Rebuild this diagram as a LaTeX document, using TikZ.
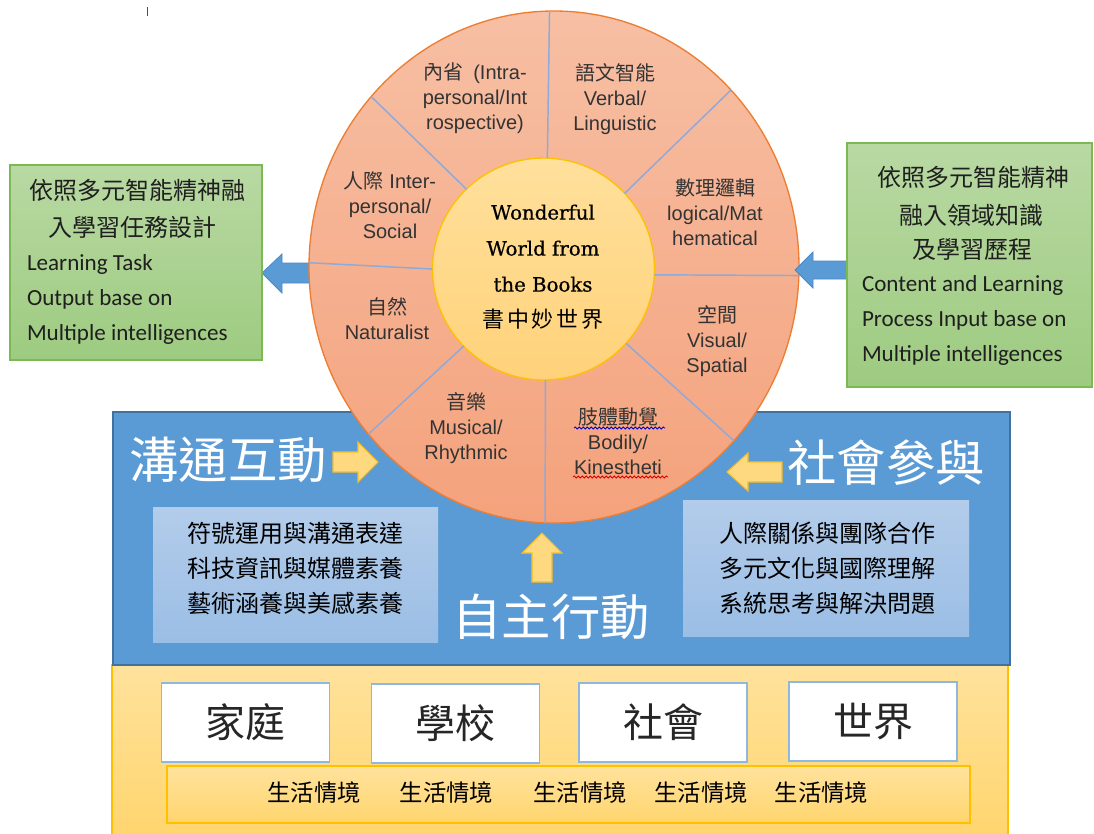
\documentclass[tikz,border=0pt]{standalone}
\usepackage{fontspec}
\setmainfont{Liberation Sans}
\newfontfamily\cjk{Noto Sans CJK TC}
\newfontfamily\calib{Carlito}
\newfontfamily\dvs[FakeBold=0.6]{DejaVu Serif}
\usetikzlibrary{shapes.geometric,decorations.pathmorphing}
\definecolor{outtop}{HTML}{F7BFA4}
\definecolor{outbot}{HTML}{F4A27C}
\definecolor{outedge}{HTML}{ED7D31}
\definecolor{intop}{HTML}{FFE09C}
\definecolor{inbot}{HTML}{FFD27A}
\definecolor{inedge}{HTML}{FFC000}
\definecolor{spoke}{HTML}{8EA9DB}
\definecolor{gtop}{HTML}{B9D9A3}
\definecolor{gbot}{HTML}{9DCB80}
\definecolor{gedge}{HTML}{7CB955}
\definecolor{bluebg}{HTML}{5B9BD5}
\definecolor{blueedge}{HTML}{41719C}
\definecolor{ltop}{HTML}{B3CCEA}
\definecolor{lbot}{HTML}{9BBEE5}
\definecolor{ytop}{HTML}{FFE29C}
\definecolor{ybot}{HTML}{FFD56E}
\definecolor{yedge}{HTML}{FFC000}
\definecolor{arrblue}{HTML}{5B9BD5}
\definecolor{arrblueedge}{HTML}{4A89C8}
\definecolor{arryel}{HTML}{FFD97F}
\definecolor{arryeledge}{HTML}{F5BD2A}
\definecolor{wboxedge}{HTML}{8FB8E0}
\definecolor{dtext}{HTML}{333333}
\begin{document}
\begin{tikzpicture}[x=0.75pt,y=-0.75pt,
  every node/.style={inner sep=0pt,outer sep=0pt},
  wedge/.style={align=center,text=dtext,font=\fontsize{15}{18.75}\selectfont},
  greenbox/.style={rectangle,draw=gedge,line width=1pt,top color=gtop,bottom color=gbot},
  gcjk/.style={text=black!88,font=\cjk\fontsize{18}{22}\selectfont},
  geng/.style={text=black!88,anchor=west,font=\calib\fontsize{17.3}{22}\selectfont},
  lightbox/.style={rectangle,top color=ltop,bottom color=lbot},
  listtxt/.style={align=center,text=black,font=\cjk\fontsize{18}{26.25}\selectfont},
  title/.style={text=white,font=\cjk\fontsize{37}{40}\selectfont},
  whitebox/.style={rectangle,fill=white,draw=wboxedge,line width=1.1pt,minimum width=126pt,minimum height=59.25pt,font=\cjk\fontsize{30}{34}\selectfont,text=black!85},
  lifetxt/.style={text=black,font=\cjk\fontsize{17.5}{20}\selectfont},
  bluearrow/.style={fill=arrblue,draw=arrblueedge,line width=0.6pt},
  yelarrow/.style={fill=arryel,draw=arryeledge,line width=0.8pt},
  spokeline/.style={draw=spoke,line width=1.1pt}
]
\useasboundingbox (0,0) rectangle (1094,833);
\path[fill=white] (0,0) rectangle (1094,833);

% small tick at top
\draw[black!70,line width=0.6pt] (147,7) -- (147,16);

% bottom yellow area and blue area
\node[rectangle,draw=yedge,line width=0.8pt,top color=ytop,bottom color=ybot,
      minimum width=672pt,minimum height=129pt,anchor=north west] (yellowbg) at (112,665) {};
\node[rectangle,fill=bluebg,draw=blueedge,line width=0.8pt,
      minimum width=672.75pt,minimum height=189.75pt,anchor=north west] (bluebg) at (113,412) {};

% light boxes in blue area
\node[lightbox,minimum width=213.75pt,minimum height=101.25pt] (lbox) at (295.5,574.5) {};
\node[listtxt] (ltext) at (295.5,568) {符號運用與溝通表達\\科技資訊與媒體素養\\藝術涵養與美感素養};
\node[lightbox,minimum width=214.5pt,minimum height=102pt] (rbox) at (826,568) {};
\node[listtxt] (rtext) at (827,568) {人際關係與團隊合作\\多元文化與國際理解\\系統思考與解決問題};

% titles
\node[title] (t1) at (228,460) {溝通互動};
\node[title] (t2) at (551,617) {自主行動};
\node[title] (t3) at (886,463) {社會參與};

% left blue arrow (under circle)
\draw[bluearrow] (262,273) -- (282,254) -- (282,263) -- (320,263) -- (320,283) -- (282,283) -- (282,293) -- cycle;

% big circle
\node[ellipse,draw=outedge,line width=1pt,top color=outtop,bottom color=outbot,
      minimum width=367.5pt,minimum height=384pt] (outer) at (554,267) {};
\node[circle,draw=inedge,line width=1pt,top color=intop,bottom color=inbot,
      minimum size=166.5pt] (inner) at (543.5,269) {};

% spokes
\draw[spokeline] (inner.88) -- (outer.91.4);
\draw[spokeline] (inner.43.4) -- (outer.45);
\draw[spokeline] (inner.-3) -- (outer.-2.6);
\draw[spokeline] (inner.-42.3) -- (outer.-44.7);
\draw[spokeline] (inner.-89) -- (outer.-92);
\draw[spokeline] (inner.-136.3) -- (outer.-138);
\draw[spokeline] (inner.180.5) -- (outer.179.5);
\draw[spokeline] (inner.134.8) -- (outer.137.8);

% center text
\node[align=center,text=black,font=\dvs\fontsize{14.8}{27}\selectfont] (ctext) at (543,267)
  {Wonderful\\World from\\the Books\\{\cjk\fontsize{16.5}{27}\selectfont 書\hspace{2pt}中\hspace{2pt}妙\hspace{2pt}世\hspace{2pt}界}};

% wedge texts
\node[wedge] (w1) at (475,98) {{\cjk 內省}\hspace{0.5em}(Intra-\\personal/Int\\rospective)};
\node[wedge] (w2) at (615,99) {{\cjk 語文智能}\\Verbal/\\Linguistic};
\node[wedge] (w3) at (715,212) {{\cjk 數理邏輯}\\logical/Mat\\hematical};
\node[wedge] (w4) at (717,341) {{\cjk 空間}\\Visual/\\Spatial};
\node[wedge] (w5) at (618,441) {{\cjk 肢體動覺}\\Bodily/\\Kinestheti};
\node[wedge] (w6) at (466,428) {{\cjk 音樂}\\Musical/\\Rhythmic};
\node[wedge] (w7) at (387,319) {{\cjk 自然}\\Naturalist};
\node[wedge] (w8) at (390,205) {{\cjk 人際} Inter-\\personal/\\Social};

% spell-check wavy underlines
\coordinate (u1a) at (574,428); \coordinate (u1b) at (665,428);
\coordinate (u2a) at (573,477); \coordinate (u2b) at (668,477);
\draw[blue!80!black,line width=0.6pt,decorate,decoration={snake,amplitude=0.8pt,segment length=3pt}] (u1a) -- (u1b);
\draw[red!85!black,line width=0.6pt,decorate,decoration={snake,amplitude=0.8pt,segment length=3pt}] (u2a) -- (u2b);

% right blue arrow
\draw[bluearrow] (795,270) -- (813,252) -- (813,261) -- (850,261) -- (850,279) -- (813,279) -- (813,288) -- cycle;

% green boxes
\node[greenbox,minimum width=189pt,minimum height=146.25pt] (gl) at (136,262.5) {};
\node[gcjk] (gl1) at (137,190) {依照多元智能精神融};
\node[gcjk] (gl2) at (132,227) {入學習任務設計};
\node[geng] (gl3) at (27,264) {Learning Task};
\node[geng] (gl4) at (27,299) {Output base on};
\node[geng] (gl5) at (27,334) {Multiple intelligences};

\node[greenbox,minimum width=183.75pt,minimum height=183pt] (gr) at (969.5,265) {};
\node[gcjk] (gr1) at (973,177) {依照多元智能精神};
\node[gcjk] (gr2) at (971,215) {融入領域知識};
\node[gcjk] (gr3) at (972,250) {及學習歷程};
\node[geng] (gr4) at (862,285) {Content and Learning};
\node[geng] (gr5) at (862,320) {Process Input base on};
\node[geng] (gr6) at (862,355) {Multiple intelligences};

% yellow arrows
\draw[yelarrow] (378,462) -- (358,442) -- (358,452) -- (333,452) -- (333,472) -- (358,472) -- (358,482) -- cycle;
\draw[yelarrow] (727,472) -- (748,453) -- (748,462) -- (782,462) -- (782,482) -- (748,482) -- (748,491) -- cycle;
\draw[yelarrow] (542,533) -- (562,553) -- (552,553) -- (552,582) -- (532,582) -- (532,553) -- (522,553) -- cycle;

% bottom boxes
\node[whitebox] (home) at (245.5,722.5) {家庭};
\node[whitebox] (school) at (455.5,723.5) {學校};
\node[whitebox] (society) at (663,722.5) {社會};
\node[whitebox] (world) at (873,721.5) {世界};

\node[rectangle,draw=yedge,line width=1.1pt,top color=ytop,bottom color=ybot,
      minimum width=602.25pt,minimum height=42.75pt] (strip) at (568.5,794.5) {};
\node[lifetxt] (l1) at (314,793) {生活情境};
\node[lifetxt] (l2) at (446.5,793) {生活情境};
\node[lifetxt] (l3) at (580,793) {生活情境};
\node[lifetxt] (l4) at (701,793) {生活情境};
\node[lifetxt] (l5) at (821.5,793) {生活情境};
\end{tikzpicture}
\end{document}
